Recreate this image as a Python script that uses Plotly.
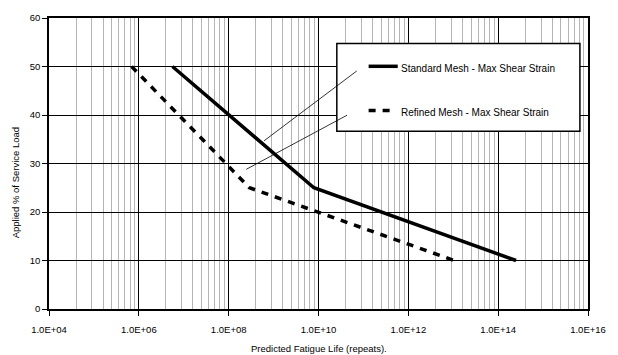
import plotly.graph_objects as go

# ---- data ----
standard_life = [5.6e6, 7.9e9, 2.5e14]
standard_load = [50, 25, 10]
refined_life = [6.9e5, 2.9e8, 1.05e13]
refined_load = [50, 25, 10]

x_major_exp = [4, 6, 8, 10, 12, 14, 16]
x_tick_labels = ["1.0E+%02d" % e for e in x_major_exp]
y_ticks = [0, 10, 20, 30, 40, 50, 60]

series_names = ["Standard Mesh - Max Shear Strain", "Refined Mesh - Max Shear Strain"]

# Excel-style minor gridlines on a base-100 log axis
minor_vals = []
for e in x_major_exp[:-1]:
    for k in range(2, 10):
        minor_vals.append(10 ** e * k * k)

FONT = "Liberation Sans, Arial, sans-serif"

fig = go.Figure()
fig.add_trace(go.Scatter(x=standard_life, y=standard_load, mode="lines",
                         name=series_names[0], showlegend=False,
                         line=dict(color="black", width=3.5)))
fig.add_trace(go.Scatter(x=refined_life, y=refined_load, mode="lines",
                         name=series_names[1], showlegend=False,
                         line=dict(color="black", width=3.5, dash="7px,7px")))

fig.update_layout(
    width=618, height=355,
    margin=dict(l=49, r=28, t=13, b=46),
    paper_bgcolor="white", plot_bgcolor="white",
    font=dict(family=FONT, size=9.5, color="black"),
    xaxis=dict(
        type="log", range=[4, 16],
        tickmode="array", tickvals=[10 ** e for e in x_major_exp], ticktext=x_tick_labels,
        ticks="outside", ticklen=5, tickwidth=1.3, tickcolor="black",
        showgrid=True, gridcolor="black", gridwidth=1.4,
        showline=True, linecolor="black", linewidth=1.5, mirror=True,
        zeroline=False, ticklabelstandoff=6,
        minor=dict(tickmode="array", tickvals=minor_vals, showgrid=True,
                   gridcolor="#b5b5b5", gridwidth=1.4, ticks=""),
    ),
    yaxis=dict(
        range=[0, 60], tickmode="array", tickvals=y_ticks,
        ticks="outside", ticklen=5, tickwidth=1.3, tickcolor="black",
        showgrid=True, gridcolor="black", gridwidth=1.4,
        showline=True, linecolor="black", linewidth=1.5, mirror=True,
        zeroline=False,
    ),
)

# axis titles
fig.add_annotation(text="Applied % of Service Load", xref="paper", yref="paper",
                   x=-0.063, y=0.432, textangle=-90, showarrow=False,
                   xanchor="center", yanchor="middle", font=dict(size=9.5))
fig.add_annotation(text="Predicted Fatigue Life (repeats).", xref="paper", yref="paper",
                   x=0.5, y=-0.135, showarrow=False,
                   xanchor="center", yanchor="middle", font=dict(size=9.5))

# manual legend box
fig.add_shape(type="rect", xref="paper", yref="paper",
              x0=0.534, x1=0.985, y0=0.611, y1=0.912,
              line=dict(color="black", width=1.5), fillcolor="white", layer="above")
fig.add_shape(type="line", xref="paper", yref="paper",
              x0=0.593, x1=0.647, y0=0.834, y1=0.834,
              line=dict(color="black", width=3.5), layer="above")
fig.add_shape(type="line", xref="paper", yref="paper",
              x0=0.593, x1=0.636, y0=0.682, y1=0.682,
              line=dict(color="black", width=3.5, dash="7px,7px"), layer="above")
fig.add_annotation(text=series_names[0], xref="paper", yref="paper",
                   x=0.649, y=0.826, showarrow=False, xanchor="left", yanchor="middle",
                   font=dict(size=10))
fig.add_annotation(text=series_names[1], xref="paper", yref="paper",
                   x=0.649, y=0.674, showarrow=False, xanchor="left", yanchor="middle",
                   font=dict(size=10))

# leader lines from legend to curves
fig.add_shape(type="line", xref="paper", yref="paper",
              x0=0.571, y0=0.818, x1=0.399, y1=0.578,
              line=dict(color="black", width=0.8), layer="above")
fig.add_shape(type="line", xref="paper", yref="paper",
              x0=0.553, y0=0.666, x1=0.366, y1=0.480,
              line=dict(color="black", width=0.8), layer="above")

fig.write_html("out.html")
